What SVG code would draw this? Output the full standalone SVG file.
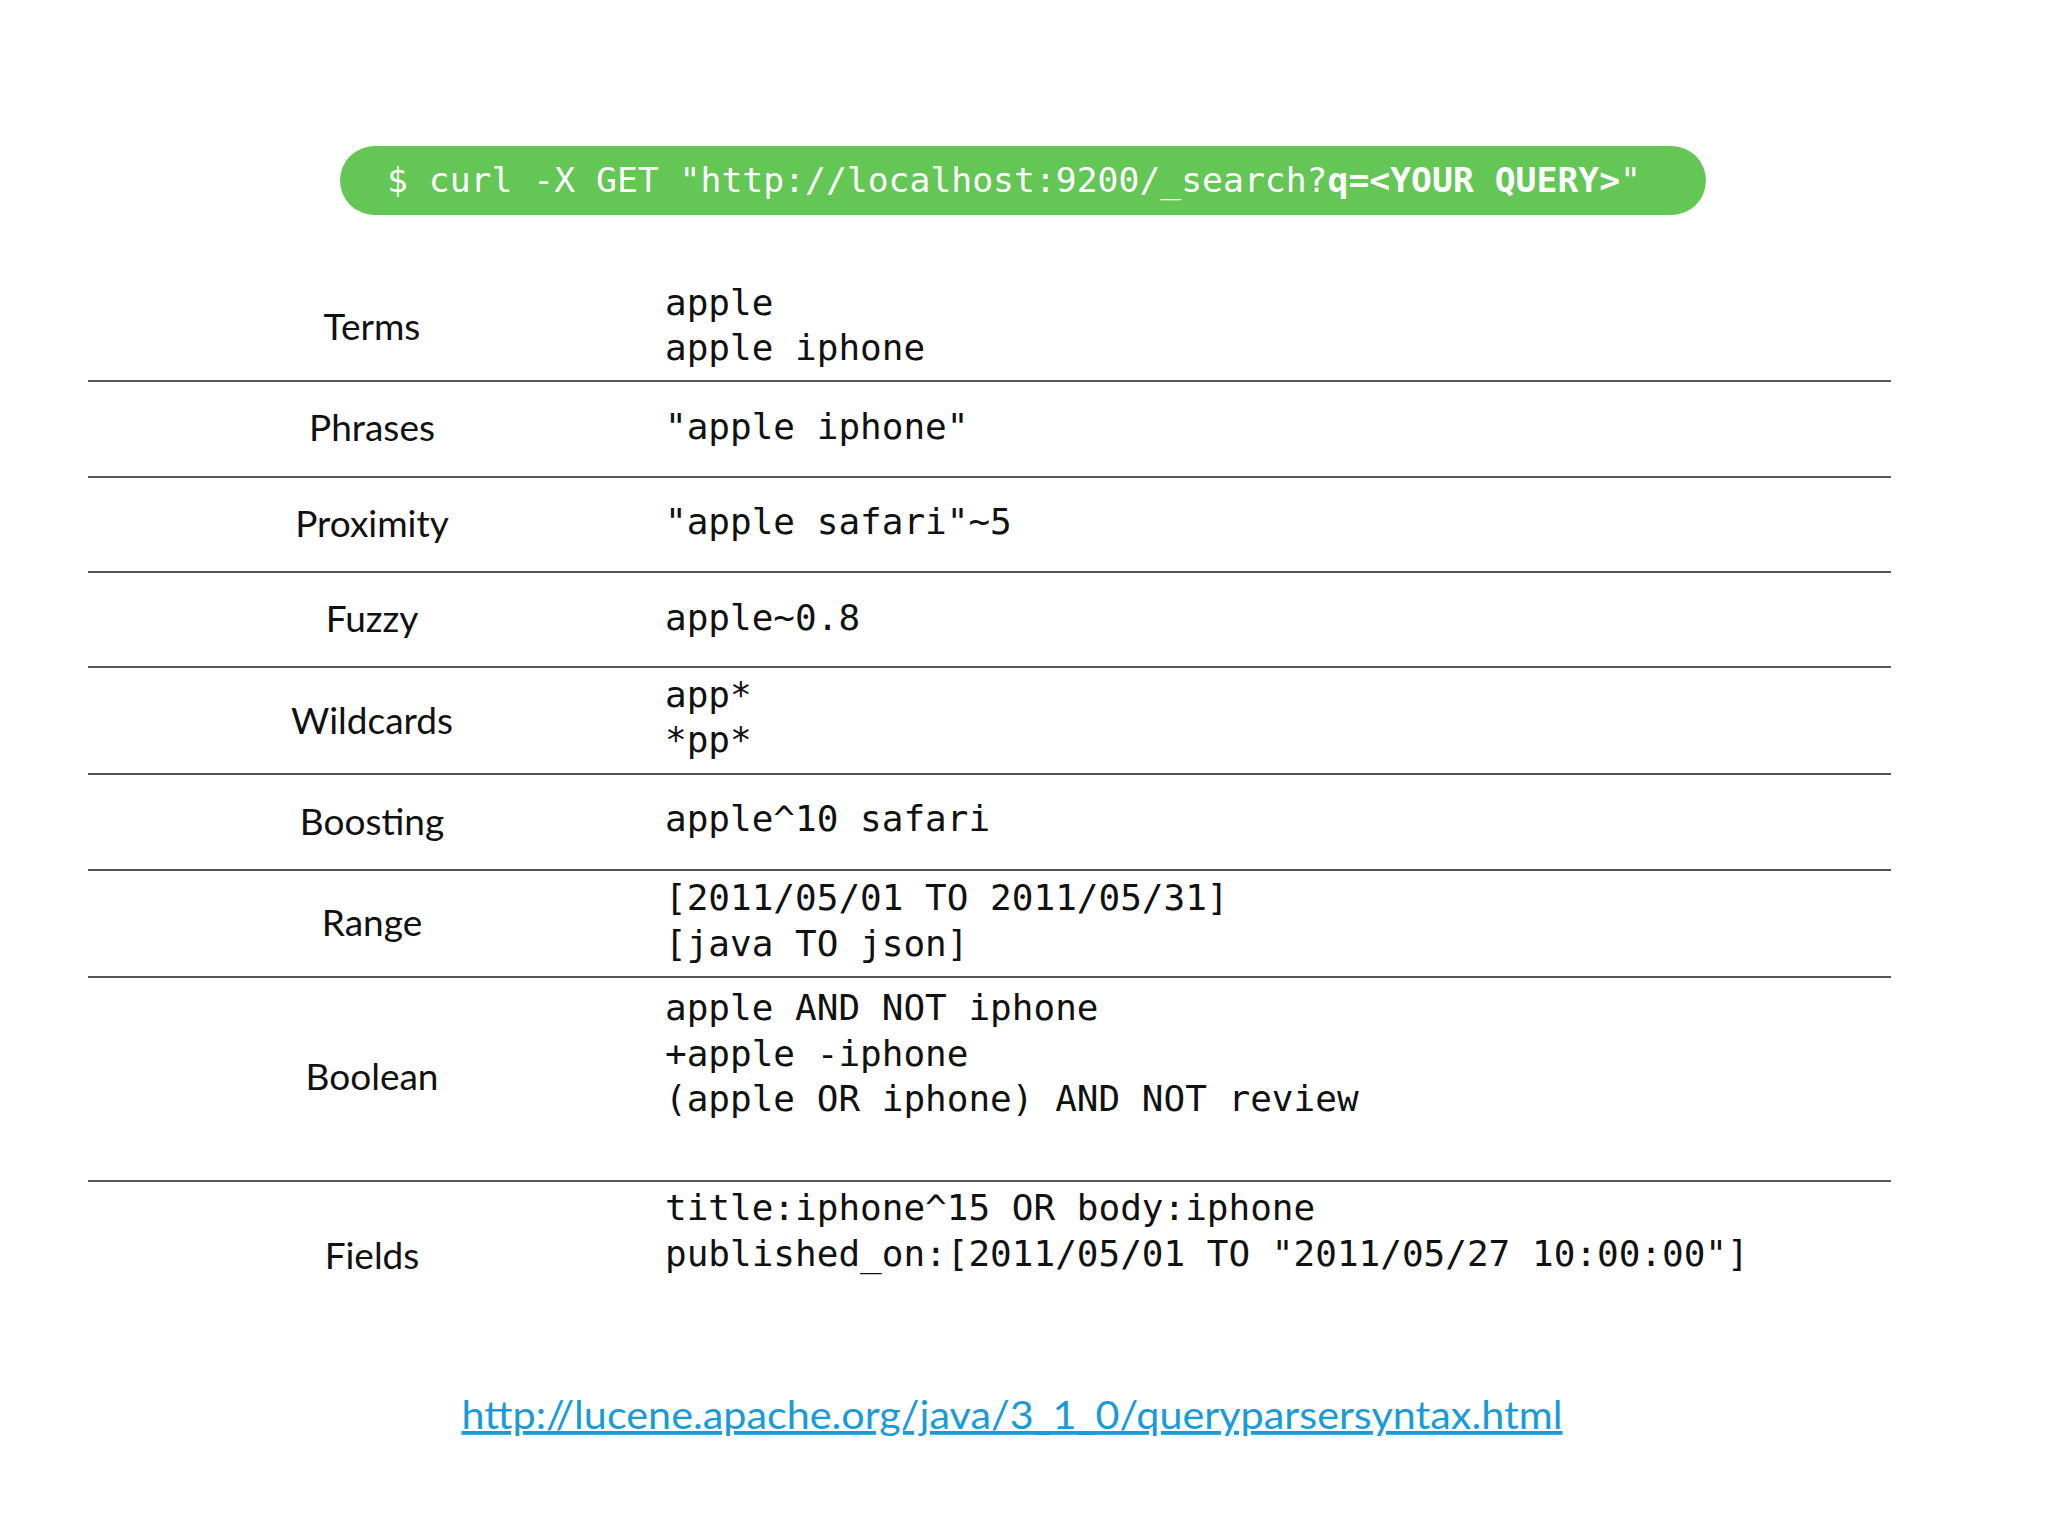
<svg xmlns="http://www.w3.org/2000/svg" width="2048" height="1536" viewBox="0 0 2048 1536">
<style>
.lbl{font-family:Lato,"Noto Sans",sans-serif;font-size:37px;fill:#111;text-anchor:middle}
.code{font-family:"DejaVu Sans Mono",monospace;font-size:36px;fill:#111}
.rule{stroke:#555;stroke-width:2}
</style>
<rect width="2048" height="1536" fill="#fff"/>
<g id="header">
<rect x="340" y="146" width="1366" height="69" rx="34.5" fill="#63c655"/>
<text x="387" y="192" font-family="DejaVu Sans Mono,monospace" font-size="34" fill="#fff" textLength="1254" lengthAdjust="spacingAndGlyphs">$ curl -X GET "http://localhost:9200/_search?<tspan font-weight="bold">q=&lt;YOUR QUERY&gt;</tspan>"</text>
</g>
<g id="rules">
<line class="rule" x1="88" y1="381" x2="1891" y2="381"/>
<line class="rule" x1="88" y1="477" x2="1891" y2="477"/>
<line class="rule" x1="88" y1="572" x2="1891" y2="572"/>
<line class="rule" x1="88" y1="667" x2="1891" y2="667"/>
<line class="rule" x1="88" y1="774" x2="1891" y2="774"/>
<line class="rule" x1="88" y1="870" x2="1891" y2="870"/>
<line class="rule" x1="88" y1="977" x2="1891" y2="977"/>
<line class="rule" x1="88" y1="1181" x2="1891" y2="1181"/>
</g>
<g id="labels">
<text class="lbl" x="372" y="340">Terms</text>
<text class="lbl" x="372" y="441">Phrases</text>
<text class="lbl" x="372" y="537">Proximity</text>
<text class="lbl" x="372" y="632">Fuzzy</text>
<text class="lbl" x="372" y="734">Wildcards</text>
<text class="lbl" x="372" y="835">Boosting</text>
<text class="lbl" x="372" y="936">Range</text>
<text class="lbl" x="372" y="1090">Boolean</text>
<text class="lbl" x="372" y="1269">Fields</text>
</g>
<g id="codes">
<text class="code" x="665" y="315">apple</text>
<text class="code" x="665" y="360">apple iphone</text>
<text class="code" x="665" y="439">"apple iphone"</text>
<text class="code" x="665" y="534">"apple safari"~5</text>
<text class="code" x="665" y="630">apple~0.8</text>
<text class="code" x="665" y="707">app*</text>
<text class="code" x="665" y="752">*pp*</text>
<text class="code" x="665" y="831">apple^10 safari</text>
<text class="code" x="665" y="910">[2011/05/01 TO 2011/05/31]</text>
<text class="code" x="665" y="956">[java TO json]</text>
<text class="code" x="665" y="1020">apple AND NOT iphone</text>
<text class="code" x="665" y="1066">+apple -iphone</text>
<text class="code" x="665" y="1111">(apple OR iphone) AND NOT review</text>
<text class="code" x="665" y="1220">title:iphone^15 OR body:iphone</text>
<text class="code" x="665" y="1266">published_on:[2011/05/01 TO "2011/05/27 10:00:00"]</text>
</g>
<g id="link">
<text x="1012" y="1429" font-family="Lato,'Noto Sans',sans-serif" font-size="38" fill="#1a9bd7" text-anchor="middle" text-decoration="underline" textLength="1101" lengthAdjust="spacingAndGlyphs">http://lucene.apache.org/java/3_1_0/queryparsersyntax.html</text>
</g>
</svg>
